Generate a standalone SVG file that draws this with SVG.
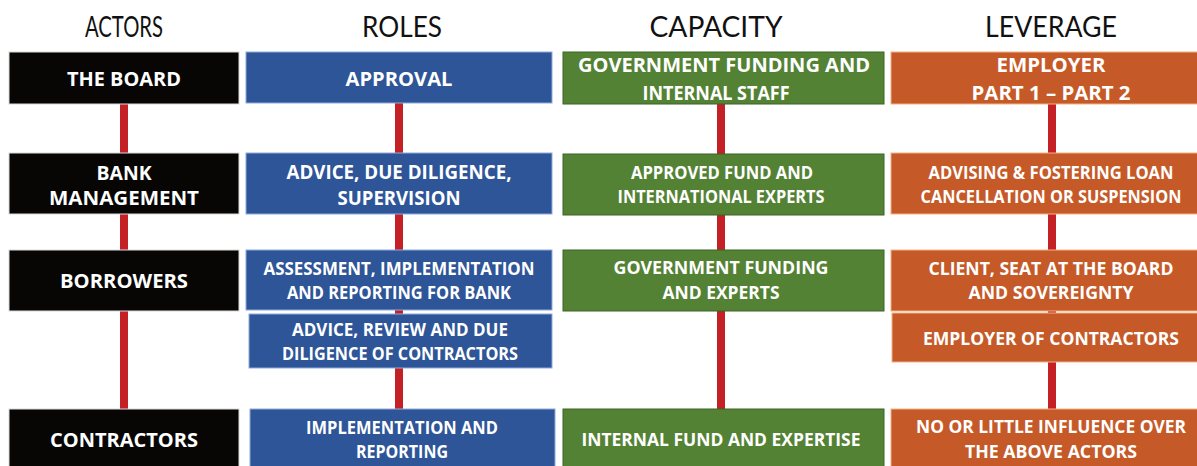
<svg xmlns="http://www.w3.org/2000/svg" width="1197" height="466" viewBox="0 0 1197 466">
<style>
.h{font-family:Lato,"Open Sans","Liberation Sans",sans-serif;font-weight:normal;font-size:28px;fill:#111;text-anchor:middle}
.t{font-family:"Open Sans","Liberation Sans",sans-serif;font-weight:bold;fill:#fff;text-anchor:middle}
.a{font-size:20px}
.s{font-size:17px}
.k{fill:#070605;stroke:#d9d9d9;stroke-width:1}
.b{fill:#2E5597;stroke:#8FAADC;stroke-width:1}
.g{fill:#548235;stroke:#3B6526;stroke-width:1}
.o{fill:#C55A28;stroke:#F4B183;stroke-width:1}
.c{stroke:#C42127;stroke-width:8;fill:none}
</style>
<rect width="1197" height="466" fill="#fff"/>
<g id="headings">
<text class="h" x="124" y="37" textLength="78" lengthAdjust="spacingAndGlyphs">ACTORS</text>
<text class="h" x="402" y="37" textLength="80" lengthAdjust="spacingAndGlyphs">ROLES</text>
<text class="h" x="716" y="37" textLength="133" lengthAdjust="spacingAndGlyphs">CAPACITY</text>
<text class="h" x="1051" y="37" textLength="132" lengthAdjust="spacingAndGlyphs">LEVERAGE</text>
</g>
<g id="connectors">
<line class="c" x1="124" y1="104" x2="124" y2="410"/>
<line class="c" x1="399" y1="103" x2="399" y2="410"/>
<line class="c" x1="721" y1="104" x2="721" y2="410"/>
<line class="c" x1="1052" y1="104" x2="1052" y2="410"/>
</g>
<g id="actors-board"><rect class="k" x="9" y="52" width="230" height="52"/><text class="t a" x="124" y="86" textLength="114" lengthAdjust="spacingAndGlyphs">THE BOARD</text></g>
<g id="actors-bank"><rect class="k" x="9" y="153" width="230" height="61"/><text class="t a" x="124" y="180" textLength="55" lengthAdjust="spacingAndGlyphs">BANK</text><text class="t a" x="124" y="205" textLength="150" lengthAdjust="spacingAndGlyphs">MANAGEMENT</text></g>
<g id="actors-borrowers"><rect class="k" x="9" y="250" width="230" height="61"/><text class="t a" x="124" y="288" textLength="128" lengthAdjust="spacingAndGlyphs">BORROWERS</text></g>
<g id="actors-contractors"><rect class="k" x="9" y="409" width="230" height="60"/><text class="t a" x="124" y="447" textLength="148" lengthAdjust="spacingAndGlyphs">CONTRACTORS</text></g>

<g id="roles-approval"><rect class="b" x="246" y="52" width="306" height="51"/><text class="t a" x="399" y="86" textLength="107" lengthAdjust="spacingAndGlyphs">APPROVAL</text></g>
<g id="roles-advice"><rect class="b" x="246" y="153" width="306" height="61"/><text class="t a" x="399" y="179" textLength="225" lengthAdjust="spacingAndGlyphs">ADVICE, DUE DILIGENCE,</text><text class="t a" x="399" y="205" textLength="123" lengthAdjust="spacingAndGlyphs">SUPERVISION</text></g>
<g id="roles-assessment"><rect class="b" x="246" y="250" width="306" height="60"/><text class="t s" x="399" y="275" textLength="271" lengthAdjust="spacingAndGlyphs">ASSESSMENT,  IMPLEMENTATION</text><text class="t s" x="399" y="299" textLength="224" lengthAdjust="spacingAndGlyphs">AND REPORTING FOR BANK</text></g>
<g id="roles-review"><rect class="b" x="249" y="314" width="303" height="54"/><text class="t s" x="400" y="336" textLength="216" lengthAdjust="spacingAndGlyphs">ADVICE, REVIEW AND DUE</text><text class="t s" x="400" y="360" textLength="236" lengthAdjust="spacingAndGlyphs">DILIGENCE OF CONTRACTORS</text></g>
<g id="roles-implementation"><rect class="b" x="250" y="409" width="305" height="60"/><text class="t s" x="402" y="434" textLength="192" lengthAdjust="spacingAndGlyphs">IMPLEMENTATION AND</text><text class="t s" x="402" y="458" textLength="92" lengthAdjust="spacingAndGlyphs">REPORTING</text></g>

<g id="capacity-gov"><rect class="g" x="563" y="52" width="321" height="52"/><text class="t a" x="724" y="72" textLength="292" lengthAdjust="spacingAndGlyphs">GOVERNMENT FUNDING AND</text><text class="t a" x="716" y="100" textLength="147" lengthAdjust="spacingAndGlyphs">INTERNAL STAFF</text></g>
<g id="capacity-approved"><rect class="g" x="563" y="154" width="321" height="61"/><text class="t s" x="722" y="179" textLength="182" lengthAdjust="spacingAndGlyphs">APPROVED FUND AND</text><text class="t s" x="721" y="203" textLength="207" lengthAdjust="spacingAndGlyphs">INTERNATIONAL  EXPERTS</text></g>
<g id="capacity-govexp"><rect class="g" x="563" y="250" width="321" height="61"/><text class="t s" x="721" y="274" textLength="215" lengthAdjust="spacingAndGlyphs">GOVERNMENT FUNDING</text><text class="t s" x="721" y="299" textLength="117" lengthAdjust="spacingAndGlyphs">AND EXPERTS</text></g>
<g id="capacity-internal"><rect class="g" x="563" y="409" width="321" height="60"/><text class="t s" x="721" y="446" textLength="279" lengthAdjust="spacingAndGlyphs">INTERNAL FUND AND EXPERTISE</text></g>

<g id="leverage-employer"><rect class="o" x="891" y="52" width="320" height="52"/><text class="t a" x="1051" y="72" textLength="109" lengthAdjust="spacingAndGlyphs">EMPLOYER</text><text class="t a" x="1051" y="100" textLength="159" lengthAdjust="spacingAndGlyphs">PART 1 – PART 2</text></g>
<g id="leverage-advising"><rect class="o" x="891" y="153" width="320" height="61"/><text class="t s" x="1051" y="179" textLength="245" lengthAdjust="spacingAndGlyphs">ADVISING &amp; FOSTERING LOAN</text><text class="t s" x="1051" y="203" textLength="261" lengthAdjust="spacingAndGlyphs">CANCELLATION OR SUSPENSION</text></g>
<g id="leverage-client"><rect class="o" x="891" y="250" width="320" height="61"/><text class="t s" x="1051" y="275" textLength="245" lengthAdjust="spacingAndGlyphs">CLIENT, SEAT AT THE BOARD</text><text class="t s" x="1051" y="299" textLength="165" lengthAdjust="spacingAndGlyphs">AND SOVEREIGNTY</text></g>
<g id="leverage-contractors"><rect class="o" x="892" y="313" width="320" height="49"/><text class="t s" x="1051" y="345" textLength="256" lengthAdjust="spacingAndGlyphs">EMPLOYER OF CONTRACTORS</text></g>
<g id="leverage-influence"><rect class="o" x="891" y="409" width="320" height="60"/><text class="t s" x="1051" y="433" textLength="270" lengthAdjust="spacingAndGlyphs">NO OR LITTLE INFLUENCE OVER</text><text class="t s" x="1051" y="458" textLength="172" lengthAdjust="spacingAndGlyphs">THE ABOVE ACTORS</text></g>
</svg>
